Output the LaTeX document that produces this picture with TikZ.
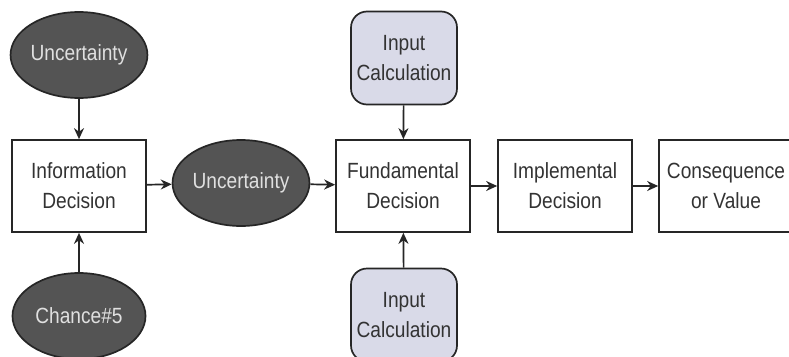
\documentclass[tikz,border=0pt]{standalone}
\usepackage{fontspec}
\setmainfont{Liberation Sans}[FakeStretch=0.87]
\usetikzlibrary{shapes.geometric,arrows.meta}
\definecolor{ellfill}{HTML}{545454}
\definecolor{inpfill}{HTML}{D9DAE8}
\definecolor{txtgray}{HTML}{333333}
\tikzset{
  base/.style={draw=black!85, line width=1.7pt, align=center, font=\fontsize{22}{30}\selectfont, inner sep=0pt},
  chance/.style={base, ellipse, fill=ellfill, text=white!88!black, minimum width=133pt, minimum height=86pt},
  decbox/.style={base, rectangle, fill=white, text=txtgray, minimum width=134pt, minimum height=92pt},
  inpbox/.style={base, rectangle, rounded corners=16pt, fill=inpfill, text=txtgray, minimum width=106pt, minimum height=93pt},
  conn/.style={line width=1.7pt, draw=black!85, -{Stealth[length=11pt,width=10pt]}}
}
\begin{document}
\begin{tikzpicture}[x=1pt,y=-1pt]
\clip (0,0) rectangle (789,356);
\fill[white] (0,0) rectangle (789,356);
\node[chance] (u1) at (79,55) {Uncertainty};
\node[decbox] (info) at (79,186) {Information\\Decision};
\node[chance] (ch5) at (79,316) {Chance\#5};
\node[chance] (u2) at (241,183) {Uncertainty};
\node[decbox] (fund) at (403,186) {Fundamental\\Decision};
\node[inpbox] (in1) at (404,58) {Input\\Calculation};
\node[inpbox] (in2) at (404,315) {Input\\Calculation};
\node[decbox] (impl) at (565,186) {Implemental\\Decision};
\node[decbox] (cons) at (726,186) {Consequence\\or Value};
\draw[conn] (u1) -- (info);
\draw[conn] (ch5) -- (info);
\draw[conn] (info) -- (u2);
\draw[conn] (u2) -- (fund);
\draw[conn] (in1) -- (fund);
\draw[conn] (in2) -- (fund);
\draw[conn] (fund) -- (impl);
\draw[conn] (impl) -- (cons);
\end{tikzpicture}
\end{document}
